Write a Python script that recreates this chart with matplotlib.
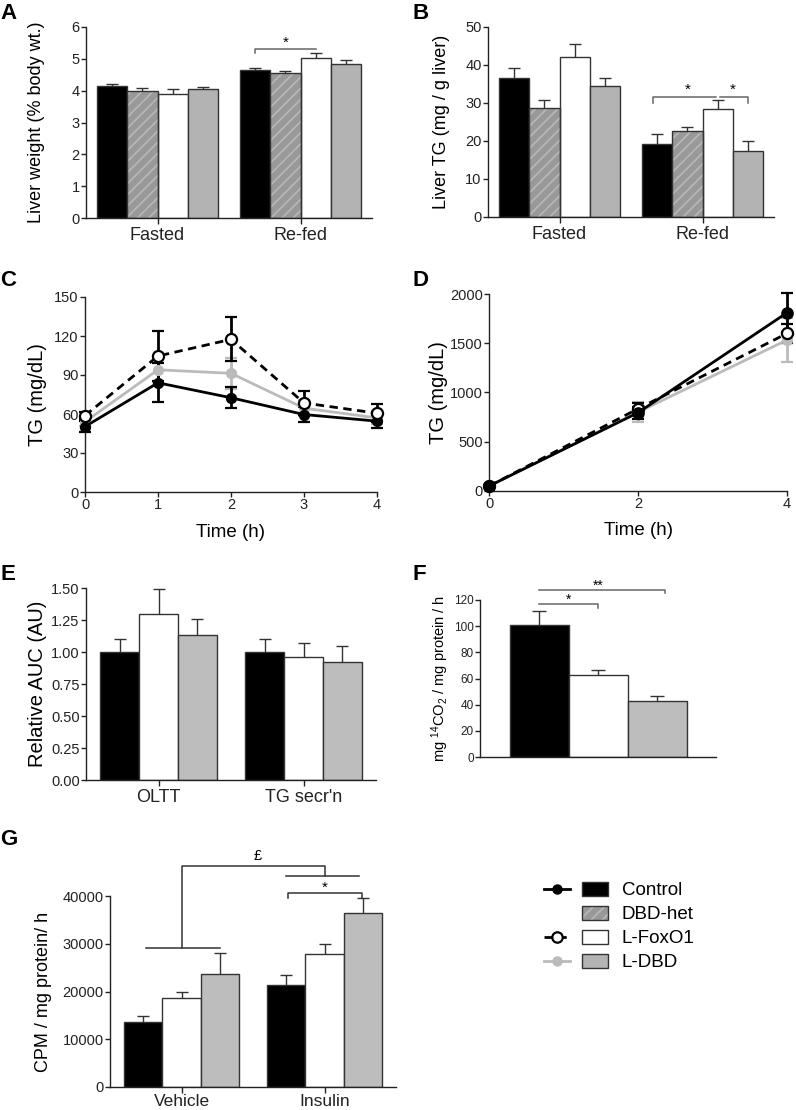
import matplotlib.pyplot as plt
from matplotlib.lines import Line2D
from matplotlib.patches import Patch
from matplotlib.legend_handler import HandlerTuple

plt.rcParams['font.family'] = ['Liberation Sans', 'DejaVu Sans']
plt.rcParams['mathtext.default'] = 'regular'
plt.rcParams['hatch.linewidth'] = 1.2
plt.rcParams['hatch.color'] = '#b8b8b8'

# ---- data ----
genotypes = ['Control', 'DBD-het', 'L-FoxO1', 'L-DBD']
feeding = ['Fasted', 'Re-fed']

# A: liver weight (% body wt.), rows = Fasted / Re-fed, cols = genotypes
liver_wt = [[4.14, 4.00, 3.90, 4.04], [4.66, 4.55, 5.04, 4.84]]
liver_wt_err = [[0.07, 0.09, 0.14, 0.09], [0.06, 0.06, 0.13, 0.12]]

# B: liver TG (mg / g liver)
liver_tg = [[36.6, 28.8, 42.0, 34.6], [19.1, 22.6, 28.3, 17.5]]
liver_tg_err = [[2.5, 2.0, 3.6, 2.1], [2.7, 1.2, 2.5, 2.6]]

# C: oral lipid tolerance test, TG (mg/dL)
oltt_time = [0, 1, 2, 3, 4]
oltt_control = [50.3, 84.0, 72.5, 59.6, 54.5]
oltt_control_err = [4, 15, 8, 6, 5]
oltt_foxo1 = [58.8, 104.6, 117.4, 68.5, 60.6]
oltt_foxo1_err = [3, 19, 17, 9, 7]
oltt_dbd = [54.0, 94.0, 91.3, 64.5, 57.0]
oltt_dbd_err = [3, 9, 12, 6, 5]

# D: TG secretion, TG (mg/dL)
secr_time = [0, 2, 4]
secr_control = [50, 795, 1810]
secr_control_err = [10, 60, 200]
secr_foxo1 = [50, 835, 1600]
secr_foxo1_err = [10, 55, 95]
secr_dbd = [50, 800, 1533]
secr_dbd_err = [10, 100, 220]

# E: relative AUC (AU)
auc_tests = ['OLTT', "TG secr'n"]
auc_genotypes = ['Control', 'L-FoxO1', 'L-DBD']
auc = [[1.00, 1.30, 1.13], [1.00, 0.96, 0.92]]
auc_err = [[0.10, 0.19, 0.13], [0.10, 0.11, 0.13]]

# F: fatty acid oxidation (mg 14CO2 / mg protein / h)
fao_genotypes = ['Control', 'L-FoxO1', 'L-DBD']
fao = [100.7, 62.3, 43.0]
fao_err = [10.7, 4.3, 3.5]

# G: lipogenesis (CPM / mg protein / h)
treatments = ['Vehicle', 'Insulin']
cpm = [[13700, 18550, 23700], [21400, 27900, 36350]]
cpm_err = [[1200, 1400, 4400], [2150, 2050, 3250]]

# ---- styles ----
bar_face = {'Control': 'black', 'DBD-het': '#999999', 'L-FoxO1': 'white', 'L-DBD': '#b3b3b3'}
bar_face_light = {'Control': 'black', 'L-FoxO1': 'white', 'L-DBD': '#bdbdbd'}
edge = '#333333'
axis_col = '#222222'

W, H = 796, 1110
fig = plt.figure(figsize=(W / 100, H / 100), dpi=100)


def add_ax(l, t, r, b):
    return fig.add_axes([l / W, 1 - b / H, (r - l) / W, (b - t) / H])


def style(ax, fs=10.5):
    for s in ['top', 'right']:
        ax.spines[s].set_visible(False)
    for s in ['left', 'bottom']:
        ax.spines[s].set_color(axis_col)
        ax.spines[s].set_linewidth(1.0)
    ax.tick_params(colors=axis_col, labelsize=fs, length=3.5, width=1, pad=1)


def ylabel(ax, text, xpix, l, r, fs=13):
    ax.set_ylabel(text, fontsize=fs)
    ax.yaxis.set_label_coords((xpix - l) / (r - l), 0.5)


def grouped_bars(ax, cats, means, errs, keys, width, faces, fs=13, pad=2.5):
    n = len(keys)
    for j, key in enumerate(keys):
        xs = [i + (j - (n - 1) / 2) * width for i in range(len(cats))]
        vals = [m[j] for m in means]
        ev = [e[j] for e in errs]
        ax.errorbar(xs, vals, yerr=ev, fmt='none', ecolor=edge, elinewidth=1,
                    capsize=4, capthick=1, zorder=1)
        if key == 'DBD-het':
            ax.bar(xs, vals, width, color=faces[key], hatch='///', linewidth=0, zorder=2)
            ax.bar(xs, vals, width, fill=False, edgecolor=edge, linewidth=1, zorder=3)
        else:
            ax.bar(xs, vals, width, color=faces[key], edgecolor=edge, linewidth=1, zorder=2)
    ax.set_xticks(range(len(cats)), cats, fontsize=fs)
    ax.tick_params(axis='x', length=4, pad=pad)
    ax.set_xlim(-0.5, 1.5)


def bracket(ax, x1, x2, y, drop, left=True, right=True, col='#666666'):
    xs, ys = [x1, x2], [y, y]
    if left:
        xs, ys = [x1] + xs, [y - drop] + ys
    if right:
        xs, ys = xs + [x2], ys + [y - drop]
    ax.plot(xs, ys, color=col, lw=1.1, clip_on=False, zorder=4)


def time_lines(ax, t, rows):
    for vals, errs, col, ls, mfc, ms in rows:
        ax.errorbar(t, vals, yerr=errs, color=col, ls=ls, lw=2, marker='o', ms=ms,
                    mfc=mfc, mec=col, mew=1.6, ecolor=col, elinewidth=2, capsize=4,
                    capthick=2, clip_on=False, zorder=3)


# ---- A ----
axA = add_ax(86, 27, 372, 218)
style(axA)
wA = 0.21
grouped_bars(axA, feeding, liver_wt, liver_wt_err, genotypes, wA, bar_face)
axA.set_ylim(0, 6)
axA.set_yticks(range(0, 7))
ylabel(axA, 'Liver weight (% body wt.)', 45, 86, 372)
bracket(axA, 1 - 1.5 * wA, 1 + 0.5 * wA, 5.31, 0.13, right=False)
axA.text(1 - 0.5 * wA, 5.28, '*', ha='center', va='bottom', fontsize=11)

# ---- B ----
axB = add_ax(488, 27, 774, 217)
style(axB)
grouped_bars(axB, feeding, liver_tg, liver_tg_err, genotypes, wA, bar_face)
axB.set_ylim(0, 50)
axB.set_yticks(range(0, 51, 10))
ylabel(axB, 'Liver TG (mg / g liver)', 450, 488, 774)
bracket(axB, 1 - 1.5 * wA - 0.03, 1 + 0.5 * wA - 0.01, 31.7, 1.6, right=False)
axB.text(1 - 0.5 * wA, 31.6, '*', ha='center', va='bottom', fontsize=11)
bracket(axB, 1 + 0.5 * wA + 0.02, 1 + 1.5 * wA, 31.7, 1.6, left=False)
axB.text(1 + 1.0 * wA, 31.6, '*', ha='center', va='bottom', fontsize=11)

# ---- C ----
axC = add_ax(85, 297, 377, 492)
style(axC)
time_lines(axC, oltt_time, [
    (oltt_dbd, oltt_dbd_err, '#bbbbbb', '-', '#bbbbbb', 6.5),
    (oltt_control, oltt_control_err, 'black', '-', 'black', 6.5),
    (oltt_foxo1, oltt_foxo1_err, 'black', (0, (3, 2)), 'white', 8),
])
axC.set_xlim(0, 4)
axC.set_ylim(0, 150)
axC.set_xticks(oltt_time)
axC.set_yticks(range(0, 151, 30))
ylabel(axC, 'TG (mg/dL)', 47, 85, 377, fs=14.5)
axC.set_xlabel('Time (h)', fontsize=13.5, va='top')
axC.xaxis.set_label_coords(0.5, (492 - 524) / 195)

# ---- D ----
axD = add_ax(489, 294, 787, 491)
style(axD)
time_lines(axD, secr_time, [
    (secr_dbd, secr_dbd_err, '#bbbbbb', '-', '#bbbbbb', 6.5),
    (secr_foxo1, secr_foxo1_err, 'black', (0, (3, 2)), 'white', 8),
    (secr_control, secr_control_err, 'black', '-', 'black', 7.5),
])
axD.set_xlim(0, 4)
axD.set_ylim(0, 2000)
axD.set_xticks(secr_time)
axD.set_yticks(range(0, 2001, 500))
ylabel(axD, 'TG (mg/dL)', 448, 489, 787, fs=14.5)
axD.set_xlabel('Time (h)', fontsize=13.5, va='top')
axD.xaxis.set_label_coords(0.5, (491 - 522) / 197)

# ---- E ----
axE = add_ax(86, 588, 376, 780)
style(axE)
grouped_bars(axE, auc_tests, auc, auc_err, auc_genotypes, 0.267, bar_face_light)
axE.set_ylim(0, 1.5)
axE.set_yticks([0, 0.25, 0.5, 0.75, 1.0, 1.25, 1.5])
axE.yaxis.set_major_formatter('{x:.2f}')
ylabel(axE, 'Relative AUC (AU)', 47, 86, 376, fs=14.5)

# ---- F ----
axF = add_ax(480, 600, 716, 757)
style(axF, fs=8.5)
xf = list(range(len(fao_genotypes)))
axF.errorbar(xf, fao, yerr=fao_err, fmt='none', ecolor=edge, elinewidth=1,
             capsize=5, capthick=1, zorder=1)
axF.bar(xf, fao, 1.0, color=[bar_face_light[g] for g in fao_genotypes],
        edgecolor=edge, linewidth=1, zorder=2)
axF.set_xlim(-1, 3)
axF.set_ylim(0, 120)
axF.set_yticks(range(0, 121, 20))
axF.set_xticks([])
ylabel(axF, r'mg $^{14}$CO$_2$ / mg protein / h', 451, 480, 716, fs=10.5)
bracket(axF, 0, 1, 117, 3.2, left=False)
axF.text(0.5, 115, '*', ha='center', va='bottom', fontsize=10)
bracket(axF, 0, 2.13, 127.7, 2.4, left=False)
axF.text(1.0, 125.8, '**', ha='center', va='bottom', fontsize=10)

# ---- G ----
axG = add_ax(110, 896, 396, 1087)
style(axG)
wG = 0.267
grouped_bars(axG, treatments, cpm, cpm_err, auc_genotypes, wG, bar_face_light, fs=12.5, pad=1)
axG.set_ylim(0, 40000)
axG.set_yticks(range(0, 40001, 10000))
ylabel(axG, 'CPM / mg protein/ h', 52, 110, 396)
gcol = '#333333'
axG.plot([-0.247, 0.268], [29110, 29110], color=gcol, lw=1.1, clip_on=False)
axG.plot([0.003, 0.003, 1.0, 1.0], [29110, 46280, 46280, 44190], color=gcol, lw=1.1, clip_on=False)
axG.plot([0.728, 1.244], [44190, 44190], color=gcol, lw=1.1, clip_on=False)
axG.text(0.533, 47000, '£', ha='center', va='bottom', fontsize=10.5)
bracket(axG, 1 - wG + 0.009, 1 + wG - 0.002, 40630, 1050, col=gcol)
axG.text(1.0, 40200, '*', ha='center', va='bottom', fontsize=11)

# ---- legend ----
class Overlay(tuple):
    pass


handles = [
    (Line2D([], [], color='black', lw=2, marker='o', ms=6.5),
     Patch(facecolor=bar_face['Control'], edgecolor=edge, lw=1)),
    (Line2D([], [], color='none'),
     Overlay((Patch(facecolor=bar_face['DBD-het'], hatch='///', lw=0),
              Patch(fill=False, edgecolor=edge, lw=1)))),
    (Line2D([], [], color='black', lw=2, ls=(0, (3, 2)), marker='o', ms=7.5,
            mfc='white', mew=1.6),
     Patch(facecolor='white', edgecolor=edge, lw=1)),
    (Line2D([], [], color='#bbbbbb', lw=2, marker='o', ms=6.5),
     Patch(facecolor=bar_face['L-DBD'], edgecolor=edge, lw=1)),
]
fig.legend(handles, genotypes, loc='upper left', bbox_to_anchor=(544 / W, 1 - 882 / H),
           frameon=False, fontsize=13.5, borderpad=0, borderaxespad=0,
           handlelength=3.4, handleheight=0.75, handletextpad=0.75, labelspacing=0.35,
           handler_map={Overlay: HandlerTuple(ndivide=1, pad=0),
                        tuple: HandlerTuple(ndivide=None, pad=0.64)})

# ---- panel letters ----
for letter, x, y in [('A', 0, 3), ('B', 412, 3), ('C', 0, 270), ('D', 412, 270),
                     ('E', 0, 564), ('F', 412, 564), ('G', 0, 829)]:
    fig.text(x / W, 1 - y / H, letter, fontsize=16, fontweight='bold', va='top', ha='left')

fig.savefig('out.png', dpi=100)
